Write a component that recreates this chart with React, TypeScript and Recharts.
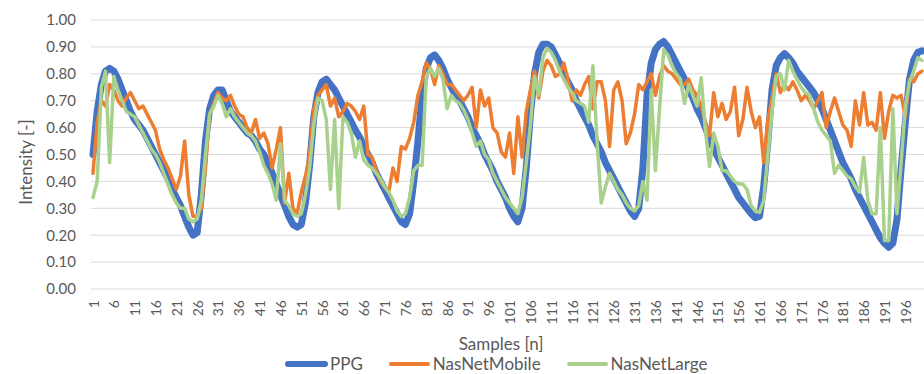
import { CartesianGrid, Legend, Line, LineChart, XAxis, YAxis } from "recharts"

// sample index 1..200 (category axis)
const samples = Array.from({ length: 200 }, (_, i) => i + 1)

const ppg = [
  0.5, 0.66, 0.76, 0.81, 0.82, 0.81, 0.78, 0.74, 0.7, 0.66,
  0.63, 0.61, 0.59, 0.56, 0.53, 0.5, 0.47, 0.44, 0.41, 0.37,
  0.34, 0.31, 0.27, 0.23, 0.2, 0.21, 0.35, 0.55, 0.67, 0.72,
  0.74, 0.74, 0.7, 0.66, 0.64, 0.62, 0.6, 0.58, 0.57, 0.55,
  0.52, 0.5, 0.47, 0.43, 0.39, 0.35, 0.31, 0.27, 0.24, 0.23,
  0.24, 0.32, 0.46, 0.64, 0.73, 0.77, 0.78, 0.76, 0.74, 0.71,
  0.68, 0.65, 0.62, 0.59, 0.565, 0.53, 0.5, 0.47, 0.43, 0.4,
  0.37, 0.34, 0.31, 0.28, 0.25, 0.24, 0.28, 0.4, 0.55, 0.72,
  0.82, 0.86, 0.87, 0.85, 0.82, 0.78, 0.75, 0.72, 0.7, 0.67,
  0.64, 0.6, 0.57, 0.54, 0.5, 0.47, 0.44, 0.4, 0.37, 0.34,
  0.3, 0.27, 0.25, 0.3, 0.45, 0.65, 0.8, 0.88, 0.91, 0.91,
  0.9, 0.87, 0.84, 0.8, 0.77, 0.74, 0.7, 0.67, 0.64, 0.61,
  0.57, 0.54, 0.51, 0.47, 0.44, 0.41, 0.38, 0.35, 0.32, 0.29,
  0.27, 0.3, 0.45, 0.72, 0.84, 0.89, 0.91, 0.92, 0.9, 0.87,
  0.84, 0.81, 0.78, 0.74, 0.71, 0.67, 0.64, 0.6, 0.56, 0.52,
  0.49, 0.46, 0.43, 0.4, 0.37, 0.34, 0.32, 0.3, 0.28, 0.265,
  0.27, 0.38, 0.55, 0.74, 0.83, 0.86, 0.875, 0.86, 0.84, 0.81,
  0.79, 0.77, 0.75, 0.73, 0.7, 0.67, 0.63, 0.59, 0.55, 0.51,
  0.47, 0.44, 0.41, 0.37, 0.34, 0.31, 0.28, 0.25, 0.22, 0.19,
  0.17, 0.155, 0.17, 0.26, 0.45, 0.62, 0.78, 0.85, 0.88, 0.885,
]

const nasNetMobile = [
  0.43, 0.62, 0.7, 0.68, 0.76, 0.74, 0.7, 0.68, 0.71, 0.73,
  0.7, 0.67, 0.68, 0.65, 0.62, 0.59, 0.52, 0.48, 0.45, 0.41,
  0.37, 0.42, 0.55, 0.35, 0.27, 0.27, 0.3, 0.45, 0.65, 0.69,
  0.73, 0.71, 0.7, 0.72, 0.68, 0.65, 0.64, 0.6, 0.58, 0.63,
  0.56, 0.58, 0.54, 0.45, 0.52, 0.6, 0.32, 0.43, 0.3, 0.28,
  0.36, 0.42, 0.5, 0.67, 0.72, 0.74, 0.76, 0.68, 0.71, 0.64,
  0.66, 0.69, 0.68, 0.66, 0.63, 0.68, 0.5, 0.49, 0.44, 0.4,
  0.38, 0.36, 0.45, 0.4, 0.53, 0.52, 0.56, 0.62, 0.72, 0.77,
  0.84, 0.82, 0.76, 0.83, 0.8, 0.76, 0.76, 0.74, 0.72, 0.7,
  0.72, 0.75, 0.6, 0.74, 0.68, 0.71, 0.6, 0.58, 0.51, 0.49,
  0.58, 0.43, 0.64, 0.49, 0.66, 0.74, 0.81, 0.71, 0.81, 0.85,
  0.83, 0.79, 0.8, 0.84, 0.78, 0.7, 0.74, 0.72, 0.76, 0.79,
  0.67, 0.77, 0.77, 0.7, 0.53, 0.74, 0.77, 0.7, 0.54, 0.58,
  0.65, 0.76, 0.74, 0.77, 0.8, 0.72, 0.79, 0.83, 0.81, 0.8,
  0.78, 0.76, 0.76, 0.78, 0.74, 0.72, 0.68, 0.62, 0.57, 0.73,
  0.64, 0.69, 0.63, 0.66, 0.75, 0.57, 0.63, 0.75, 0.66, 0.6,
  0.64, 0.47, 0.63, 0.71, 0.8, 0.73, 0.76, 0.74, 0.77, 0.74,
  0.7, 0.72, 0.7, 0.67, 0.7, 0.73, 0.6, 0.66, 0.71, 0.66,
  0.61, 0.59, 0.53, 0.7, 0.61, 0.73, 0.61, 0.62, 0.59, 0.73,
  0.56, 0.66, 0.72, 0.71, 0.72, 0.64, 0.78, 0.77, 0.8, 0.81,
]

const nasNetLarge = [
  0.34, 0.4, 0.75, 0.81, 0.47, 0.79, 0.74, 0.7, 0.66, 0.65,
  0.64, 0.61, 0.58, 0.55, 0.52, 0.5, 0.47, 0.43, 0.39, 0.35,
  0.32, 0.3, 0.3, 0.26, 0.25, 0.26, 0.33, 0.5, 0.65, 0.68,
  0.72, 0.69, 0.64, 0.67, 0.64, 0.62, 0.6, 0.58, 0.57, 0.55,
  0.51, 0.46, 0.43, 0.39, 0.33, 0.54, 0.33, 0.31, 0.28, 0.27,
  0.28, 0.35, 0.45, 0.61, 0.71, 0.7, 0.63, 0.37, 0.63, 0.3,
  0.64, 0.62, 0.58, 0.49, 0.55, 0.48, 0.46, 0.45, 0.43, 0.41,
  0.38, 0.36, 0.33, 0.29, 0.27, 0.28, 0.34, 0.44, 0.46, 0.46,
  0.79, 0.82, 0.79, 0.82, 0.78, 0.67, 0.72, 0.7, 0.69, 0.665,
  0.63, 0.58, 0.53, 0.55, 0.5, 0.48, 0.43, 0.4, 0.37, 0.34,
  0.32, 0.3, 0.28, 0.34, 0.47, 0.61, 0.79, 0.72, 0.86, 0.895,
  0.88, 0.85, 0.81, 0.78, 0.75, 0.73, 0.7, 0.69, 0.68, 0.62,
  0.83, 0.55, 0.32, 0.38, 0.43, 0.4, 0.37, 0.35, 0.32, 0.3,
  0.29, 0.31, 0.4, 0.33, 0.74, 0.44, 0.67, 0.89, 0.87, 0.83,
  0.8, 0.78, 0.69, 0.76, 0.72, 0.68, 0.785, 0.59, 0.455, 0.58,
  0.53, 0.44, 0.44, 0.42, 0.4, 0.39, 0.39, 0.37, 0.31, 0.29,
  0.285, 0.33, 0.5, 0.66, 0.79, 0.8, 0.74, 0.85, 0.81, 0.78,
  0.75, 0.73, 0.72, 0.67, 0.62, 0.59, 0.57, 0.55, 0.43, 0.46,
  0.44, 0.42, 0.41, 0.38, 0.36, 0.49, 0.33, 0.28, 0.28, 0.6,
  0.18, 0.18, 0.67, 0.28, 0.47, 0.68, 0.77, 0.81, 0.86, 0.85,
]

const yTicks = [0, 0.1, 0.2, 0.3, 0.4, 0.5, 0.6, 0.7, 0.8, 0.9, 1]

const SERIES = [
  { key: "ppg", name: "PPG", color: "#4472C4", width: 7, legendWidth: 6 },
  { key: "mobile", name: "NasNetMobile", color: "#ED7D31", width: 3.5, legendWidth: 4 },
  { key: "large", name: "NasNetLarge", color: "#A9D18E", width: 3.5, legendWidth: 4 },
]

const data = samples.map((n, i) => ({
  n,
  ppg: ppg[i],
  mobile: nasNetMobile[i],
  large: nasNetLarge[i],
}))

const FONT = "Lato, 'Open Sans', sans-serif"
const TEXT_COLOR = "#595959"

function XTick(props: any) {
  const { x, y, payload } = props
  return (
    <text
      x={x}
      y={y}
      transform={`rotate(-90 ${x} ${y})`}
      textAnchor="end"
      dominantBaseline="central"
      fontSize={14}
      fontFamily={FONT}
      fill={TEXT_COLOR}
    >
      {payload.value}
    </text>
  )
}

function YTitle() {
  return (
    <text
      x={25}
      y={162}
      transform="rotate(-90 25 162)"
      textAnchor="middle"
      dominantBaseline="central"
      fontSize={17}
      fontFamily={FONT}
      fill={TEXT_COLOR}
    >
      Intensity [-]
    </text>
  )
}

function XTitle() {
  return (
    <text
      x={501}
      y={343}
      textAnchor="middle"
      dominantBaseline="central"
      fontSize={17}
      fontFamily={FONT}
      fill={TEXT_COLOR}
    >
      Samples [n]
    </text>
  )
}

function ChartLegend() {
  return (
    <div
      style={{
        display: "flex",
        alignItems: "center",
        height: 23,
        boxSizing: "border-box",
        paddingTop: 2,
        paddingLeft: 285,
        fontFamily: FONT,
        fontSize: 17,
        lineHeight: "18px",
        color: TEXT_COLOR,
      }}
    >
      {SERIES.map((s) => (
        <div key={s.key} style={{ display: "flex", alignItems: "center", marginRight: 25 }}>
          <svg width={43} height={8} style={{ display: "block" }}>
            <line
              x1={3}
              x2={40}
              y1={4}
              y2={4}
              stroke={s.color}
              strokeWidth={s.legendWidth}
              strokeLinecap="round"
            />
          </svg>
          <span style={{ marginLeft: 2 }}>{s.name}</span>
        </div>
      ))}
    </div>
  )
}

export default function App() {
  return (
    <div style={{ position: "absolute", left: 0, top: 0, background: "#fff" }}>
      <LineChart width={924} height={374} data={data} margin={{ top: 20, right: 0, bottom: 0, left: 0 }}>
        <CartesianGrid vertical={false} stroke="#d9d9d9" strokeWidth={1} />
        <XAxis
          dataKey="n"
          interval={4}
          tick={<XTick />}
          tickLine={false}
          axisLine={false}
          tickSize={0}
          tickMargin={11}
          height={62}
          padding={{ left: 2, right: 2 }}
          label={<XTitle />}
        />
        <YAxis
          domain={[0, 1]}
          ticks={yTicks}
          width={91}
          tickFormatter={(v: number) => v.toFixed(2)}
          tick={{ fontSize: 15, fontFamily: FONT, fill: TEXT_COLOR }}
          tickLine={false}
          axisLine={false}
          tickSize={0}
          tickMargin={15}
          label={<YTitle />}
        />
        <Legend verticalAlign="bottom" height={23} content={<ChartLegend />} />
        {SERIES.map((s) => (
          <Line
            key={s.key}
            type="linear"
            dataKey={s.key}
            name={s.name}
            stroke={s.color}
            strokeWidth={s.width}
            strokeLinejoin="round"
            strokeLinecap="round"
            dot={false}
            activeDot={false}
            isAnimationActive={false}
          />
        ))}
      </LineChart>
    </div>
  )
}
